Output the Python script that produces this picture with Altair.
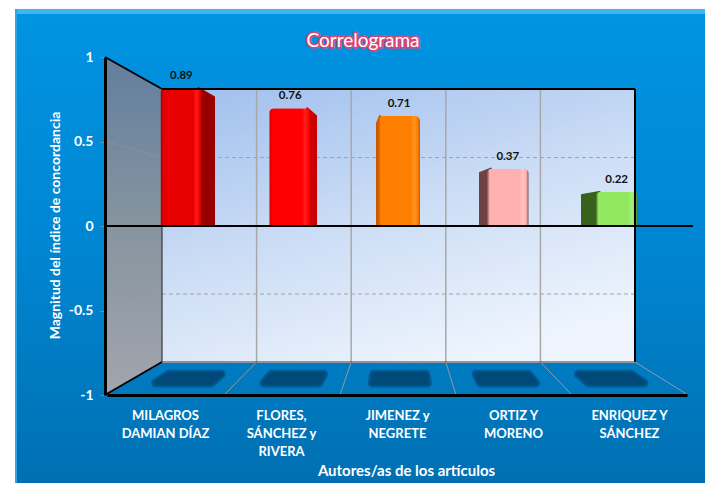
import altair as alt
import pandas as pd

# ---- data ----
categories = ["MILAGROS|DAMIAN DÍAZ", "FLORES,|SÁNCHEZ y|RIVERA", "JIMENEZ y|NEGRETE",
              "ORTIZ Y|MORENO", "ENRIQUEZ Y|SÁNCHEZ"]
values = [0.89, 0.76, 0.71, 0.37, 0.22]
value_labels = ["0.89", "0.76", "0.71", "0.37", "0.22"]
front_colors = ["#e80000", "#ff0000", "#ff8000", "#ffb0b0", "#92e860"]
light_colors = ["#ff1c1c", "#ff2020", "#ff9420", "#ffc4c4", "#a8f078"]
side_colors = ["#990000", "#c80000", "#c85a00", "#6e4242", "#38611c"]
y_ticks = [-1, -0.5, 0, 0.5, 1]
title_text = "Correlograma"
y_title = "Magnitud del índice de concordancia"
x_title = "Autores/as de los artículos"

FONT = "Lato"
W, H = 697, 475
WALL = 0.81  # back wall height relative to the front axis

# page-pixel scene scales and the value scales at three depths
PX = alt.Scale(domain=[8, 8 + W], range=[0, W], nice=False, zero=False)
PY = alt.Scale(domain=[8, 8 + H], range=[0, H], nice=False, zero=False)
Y_FRONT = alt.Scale(domain=[-1, 1], range=[387, 49], nice=False, zero=False)
Y_BAR = alt.Scale(domain=[-1, 1], range=[373, 63], nice=False)
BAND_FRONT = alt.Scale(domain=categories, range=[99, 679])
BAND_BAR = alt.Scale(domain=categories, range=[119, 663])

df = pd.DataFrame({"cat": categories, "v": values, "lab": value_labels})


def grad(stops, x1=0, y1=0, x2=0, y2=1):
    return alt.LinearGradient(gradient="linear", x1=x1, y1=y1, x2=x2, y2=y2,
                              stops=[alt.GradientStop(offset=o, color=c) for o, c in stops])


def rect(x0, x1, y0, y1, color):
    d = pd.DataFrame([{"x0": x0, "x1": x1, "y0": y0, "y1": y1}])
    return alt.Chart(d).mark_rect(color=color).encode(
        x=alt.X("x0:Q", scale=PX, axis=None), x2="x1:Q",
        y=alt.Y("y0:Q", scale=PY, axis=None), y2="y1:Q")


def segs(items, color, width, dash=None, opacity=1.0):
    d = pd.DataFrame(items, columns=["x0", "y0", "x1", "y1"])
    kw = {"strokeDash": dash} if dash else {}
    return alt.Chart(d).mark_rule(color=color, strokeWidth=width, opacity=opacity, **kw).encode(
        x=alt.X("x0:Q", scale=PX, axis=None), x2="x1:Q",
        y=alt.Y("y0:Q", scale=PY, axis=None), y2="y1:Q")


# floor projection: u = category units, t = 0 at back wall, 1 at the front edge
def floor_x(u, t):
    back = 162 + 94.6 * u
    front = 108 + 116 * u
    return back + (front - back) * t


layers = []

# panel with bevel (the panel runs to the page's drawable edge)
layers.append(rect(15, 705, 9, 483, grad([(0, "#0094e2"), (0.5, "#0086d2"), (1, "#0070b2")])))
layers.append(rect(15, 705, 9, 14, "#3fb6f2"))
layers.append(rect(15, 17, 9, 483, "#2ea4e4"))

# left wall, projected on the front value scale
wall_df = pd.DataFrame({"x": [105, 162], "top": [1, WALL], "bot": [-1, -WALL]})
layers.append(alt.Chart(wall_df).mark_area(
    color=grad([(0, "#627e9e"), (0.5, "#87949f"), (1, "#a2a5ad")])).encode(
    x=alt.X("x:Q", scale=PX, axis=None),
    y=alt.Y("top:Q", scale=Y_FRONT, axis=None), y2="bot:Q"))

# back wall
back_df = pd.DataFrame([{"x0": 162, "x1": 635, "top": WALL, "bot": -WALL}])
layers.append(alt.Chart(back_df).mark_rect(
    color=grad([(0, "#a2c1ee"), (0.5, "#cbdcf5"), (1, "#edf4fd")], x1=0.1, y1=0, x2=0.6, y2=1)).encode(
    x=alt.X("x0:Q", scale=PX, axis=None), x2="x1:Q",
    y=alt.Y("top:Q", scale=Y_FRONT, axis=None), y2="bot:Q"))

# gridlines on wall and floor
layers.append(segs([[floor_x(u, 0), 89, floor_x(u, 0), 362] for u in range(1, 5)], "#a8a8a8", 1.5))
layers.append(segs([[floor_x(u, 0), 362, floor_x(u, 0.97), 394] for u in range(1, 6)], "#8f9aa3", 1))
layers.append(segs([[162, 157.5, 635, 157.5], [162, 294, 635, 294]], "#a3a3a3", 1, dash=[4, 3]))
layers.append(segs([[105, 141, 162, 157.5], [105, 311, 162, 294]], "#a3a3a3", 1, dash=[2, 2], opacity=0.55))

# floor shadows: a few nested soft outlines for a blurred edge
shadow_rows = []
for i in range(len(categories)):
    for y_, t in [(374, 0.36), (383, 0.64)]:
        shadow_rows.append({"i": i, "y": y_,
                            "x0": floor_x(i + 0.26, t), "x1": floor_x(i + 0.77, t)})
for sw in (9, 6, 3):
    layers.append(alt.Chart(pd.DataFrame(shadow_rows)).mark_area(
        orient="horizontal", color="#004470", stroke="#004470", strokeWidth=sw,
        opacity=0.5, strokeJoin="round").encode(
        y=alt.Y("y:Q", scale=PY, axis=None),
        x=alt.X("x0:Q", scale=PX, axis=None), x2="x1:Q", detail="i:N"))

# bar side faces: from the front edge back to the rear edge, lower because farther away
BAR_W, REAR_W = 42, 40
for i, (v, side) in enumerate(zip(values, side_colors)):
    front_c = 127 + 108.8 * i + 54.4
    rear_c = 143 + 102 * i + 51
    if i == 2:
        front_edge, rear_edge = front_c - BAR_W / 2 + 2, front_c - BAR_W / 2 - 1
    elif i < 2:
        front_edge, rear_edge = front_c + BAR_W / 2 - 4, rear_c + REAR_W / 2
    else:
        front_edge, rear_edge = front_c - BAR_W / 2 + 4, rear_c - REAR_W / 2
    side_df = pd.DataFrame({"x": [front_edge, rear_edge],
                            "top": [226 - 155 * v, 226 - 146 * v + 1],
                            "bot": [226, 226]})
    layers.append(alt.Chart(side_df).mark_area(
        color=side, stroke=side, strokeWidth=2, strokeJoin="round").encode(
        x=alt.X("x:Q", scale=PX, axis=None),
        y=alt.Y("top:Q", scale=PY, axis=None), y2="bot:Q"))

# bar front faces through the value scale
for i, c in enumerate(categories):
    one = df[df["cat"] == c]
    dark = side_colors[i]
    base = front_colors[i]
    light = light_colors[i]
    layers.append(alt.Chart(one).mark_bar(
        size=BAR_W, cornerRadiusTopLeft=5, cornerRadiusTopRight=5,
        color=grad([(0, dark), (0.07, base), (0.78, base), (0.86, light), (0.94, base), (1, dark)],
                   x1=0, y1=0, x2=1, y2=0)).encode(
        x=alt.X("cat:N", scale=BAND_BAR, axis=None),
        y=alt.Y("v:Q", scale=Y_BAR, axis=None)))

# black frame lines
layers.append(segs([[162, 89, 635, 89], [635, 89, 635, 362]], "#000000", 2))
layers.append(segs([[105, 57, 162, 89], [105, 395, 162, 362]], "#000000", 2))
layers.append(segs([[162, 226, 162, 362], [162, 362, 635, 362]], "#3a3a3a", 1.2))

# zero line and the y axis
zero_df = pd.DataFrame({"v": [0], "x0": [105], "x1": [693]})
layers.append(alt.Chart(zero_df).mark_rule(color="#000000", strokeWidth=2).encode(
    x=alt.X("x0:Q", scale=PX, axis=None), x2="x1:Q",
    y=alt.Y("v:Q", scale=Y_FRONT, axis=alt.Axis(
        orient="left", offset=-97, values=y_ticks, grid=False, zindex=2,
        labelExpr="toString(datum.value)",
        domainColor="#000000", domainWidth=3, tickColor="#8a8a8a", tickSize=5, tickWidth=1,
        labelColor="#ffffff", labelFont=FONT, labelFontWeight="bold", labelFontSize=14,
        labelPadding=7, title=y_title, titleColor="#ffffff", titleFont=FONT,
        titleFontWeight="bold", titleFontSize=14, titleAngle=270, titleAlign="center",
        titleBaseline="middle", titleX=-50, titleY=217))))

# category axis on the floor's front edge
layers.append(alt.Chart(df).mark_point(opacity=0).encode(
    x=alt.X("cat:N", scale=BAND_FRONT, sort=None, axis=alt.Axis(
        orient="bottom", offset=-88, zindex=2, grid=False, ticks=False, labelAngle=0,
        domainColor="#000000", domainWidth=3, labelExpr="split(datum.label, '|')",
        labelColor="#ffffff", labelFont=FONT, labelFontWeight="bold", labelFontSize=13,
        labelLineHeight=18, labelPadding=14, labelOverlap=False, labelFlush=False,
        title=x_title, titleColor="#ffffff", titleFont=FONT, titleFontWeight="bold",
        titleFontSize=15, titleX=398, titleY=75, titleAlign="center", titleBaseline="middle"))))

# value labels
layers.append(alt.Chart(df).mark_text(
    font=FONT, fontWeight="bold", fontSize=11.5, color="#111111", baseline="bottom", dy=-7).encode(
    x=alt.X("cat:N", scale=BAND_BAR, axis=None),
    y=alt.Y("v:Q", scale=Y_BAR, axis=None),
    text="lab:N"))

# title with a glow
title_df = pd.DataFrame({"t": [title_text]})
layers.append(alt.Chart(title_df).mark_text(
    font=FONT, fontSize=19, color="#e8406c", stroke="#e8406c", strokeWidth=3.5,
    strokeJoin="round", strokeOpacity=0.9).encode(
    x=alt.value(355), y=alt.value(33), text="t:N"))
layers.append(alt.Chart(title_df).mark_text(
    font=FONT, fontSize=19, color="#ffffff").encode(
    x=alt.value(355), y=alt.value(33), text="t:N"))

chart = alt.layer(*layers).resolve_scale(x="independent", y="independent").properties(
    width=W, height=H, padding=0, autosize=alt.AutoSizeParams(type="none")
).configure_view(stroke=None)

chart.save("out.html", embed_options={"renderer": "svg", "actions": False})
